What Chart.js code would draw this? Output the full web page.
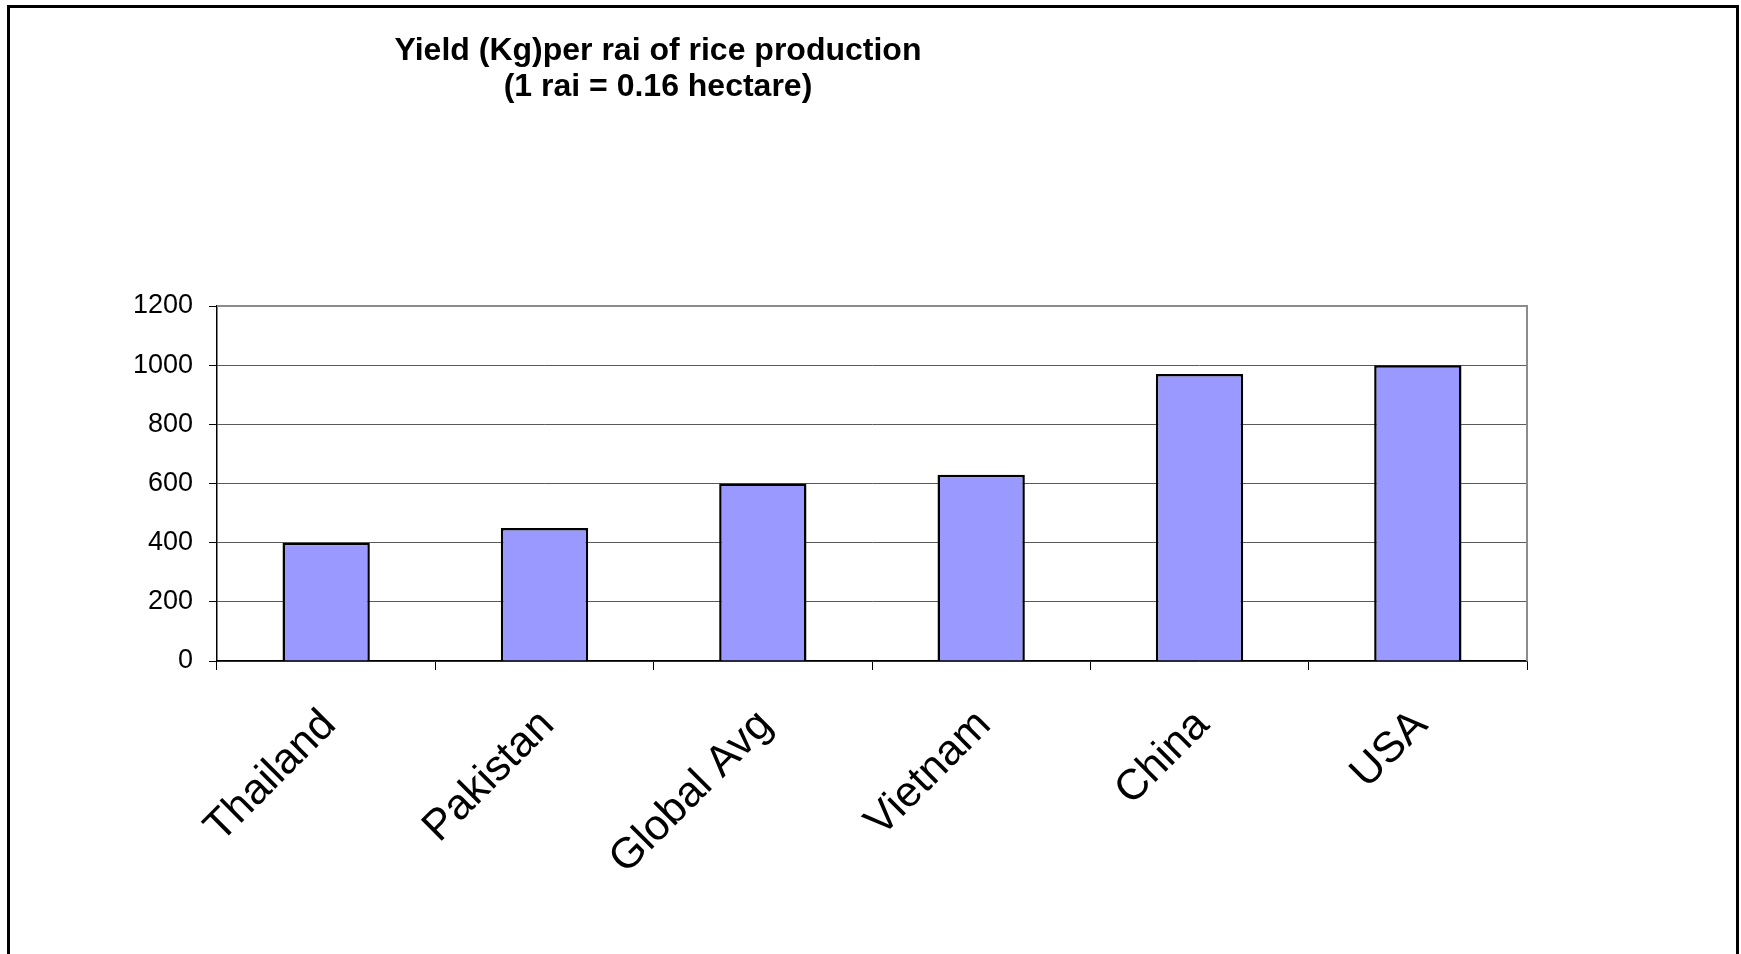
<!DOCTYPE html>
<html>
<head>
<meta charset="utf-8">
<script src="https://cdn.jsdelivr.net/npm/chart.js@4/dist/chart.umd.min.js"></script>
<style>
  html, body { margin: 0; padding: 0; background: #fff; overflow: hidden; }
  #wrap { position: relative; width: 1741px; height: 954px; }
  #frame { position: absolute; left: 7px; top: 5px; width: 1732px; height: 1000px;
           border: 3px solid #000; box-sizing: border-box; pointer-events: none; }
</style>
</head>
<body>
<div id="wrap">
  <canvas id="myChart"></canvas>
  <div id="frame"></div>
</div>
<script>
// Chart data
const categories = ['Thailand', 'Pakistan', 'Global Avg', 'Vietnam', 'China', 'USA'];
const yields = [400, 450, 600, 630, 970, 1000];
const titleLines = ['Yield (Kg)per rai of rice production', '(1 rai = 0.16 hectare)'];
const yMin = 0;
const yMax = 1200;
const yStep = 200;

const fontFamily = '"Liberation Sans", Arial, sans-serif';

// Title text and the grey plot-area frame (top and right edges)
const excelLook = {
    id: 'excelLook',
    afterDraw(chart) {
        const ctx = chart.ctx;
        const area = chart.chartArea;
        ctx.save();
        ctx.strokeStyle = '#8c8c8c';
        ctx.lineWidth = 2;
        ctx.beginPath();
        ctx.moveTo(area.left, area.top);
        ctx.lineTo(area.right, area.top);
        ctx.lineTo(area.right, area.bottom);
        ctx.stroke();

        ctx.fillStyle = '#000';
        ctx.font = 'bold 32px ' + fontFamily;
        ctx.textAlign = 'center';
        ctx.textBaseline = 'middle';
        titleLines.forEach((line, i) => {
            ctx.fillText(line, 658, 51 + i * 36.5);
        });
        ctx.restore();
    }
};

const ctx = document.getElementById('myChart').getContext('2d');
const myChart = new Chart(ctx, {
    type: 'bar',
    data: {
        labels: categories,
        datasets: [{
            data: yields,
            backgroundColor: '#9999ff',
            borderColor: '#000',
            borderWidth: 2.5,
            barPercentage: 0.4,
            categoryPercentage: 1.0
        }]
    },
    options: {
        responsive: true,
        maintainAspectRatio: false,
        animation: false,
        layout: { padding: { top: 306, right: 214, bottom: 0, left: 0 } },
        plugins: {
            legend: { display: false },
            tooltip: { enabled: false }
        },
        scales: {
            x: {
                grid: {
                    offset: true,
                    drawOnChartArea: false,
                    color: '#000',
                    tickColor: '#000',
                    tickLength: 9
                },
                border: { color: '#000', width: 1.5 },
                ticks: {
                    maxRotation: 45,
                    minRotation: 45,
                    padding: 30,
                    labelOffset: 3,
                    color: '#000',
                    font: { family: fontFamily, size: 43 }
                },
                afterFit(scale) { scale.height = 293; }
            },
            y: {
                min: yMin,
                max: yMax,
                grid: {
                    color: '#5a5a5a',
                    tickColor: '#000',
                    tickLength: 8,
                    lineWidth: 1
                },
                border: { color: '#000', width: 1.5 },
                ticks: {
                    stepSize: yStep,
                    padding: 16,
                    color: '#000',
                    font: { family: fontFamily, size: 27 },
                    callback: (value) => String(value)
                },
                afterFit(scale) { scale.width = 217; }
            }
        }
    },
    plugins: [excelLook]
});
</script>
</body>
</html>
